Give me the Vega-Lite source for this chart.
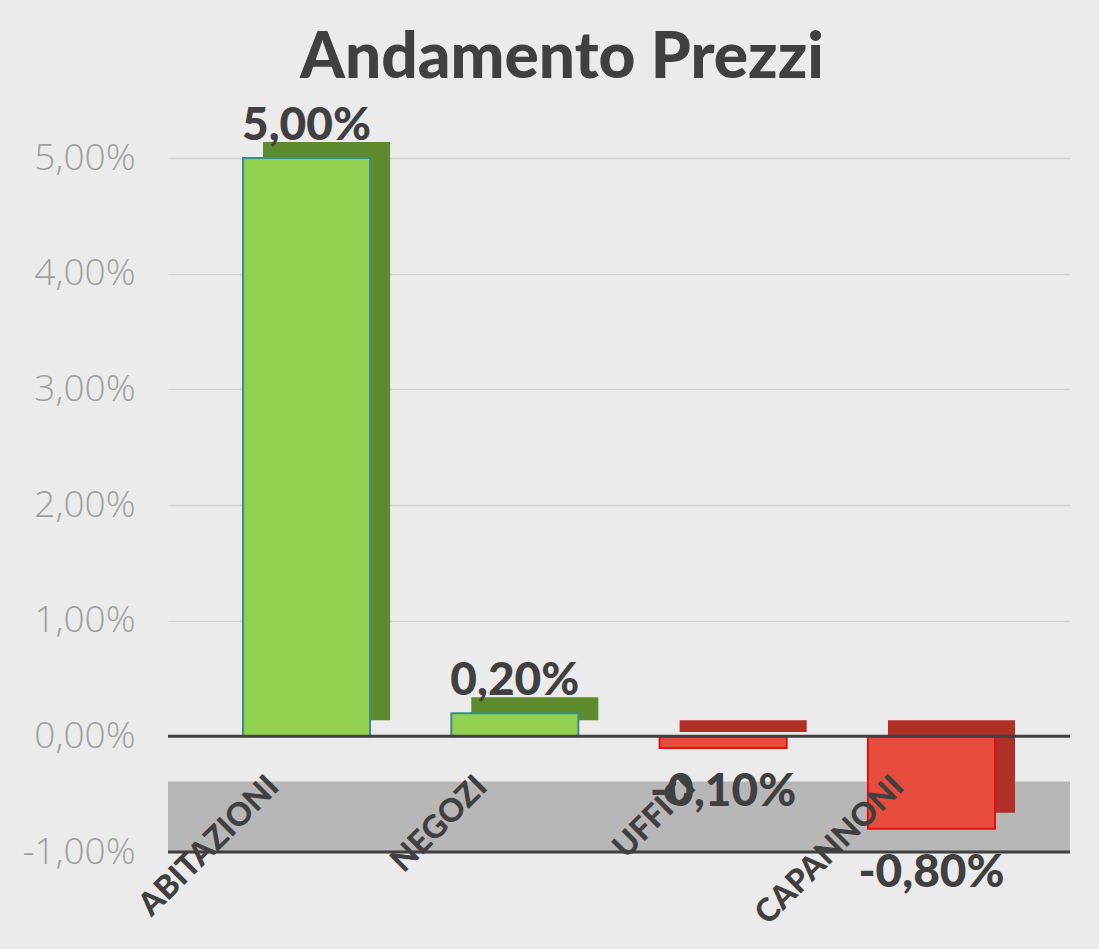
{
  "$schema": "https://vega.github.io/schema/vega-lite/v6.json",
  "width": 902,
  "height": 694,
  "autosize": {"type": "none"},
  "padding": {"left": 168, "top": 158, "right": 29, "bottom": 97},
  "background": "#ebebeb",
  "config": {
    "locale": {"number": {"decimal": ",", "thousands": ".", "grouping": [3], "currency": ["", " €"], "minus": "-"}},
    "view": {"stroke": null}
  },
  "title": {
    "text": "Andamento Prezzi",
    "fontSize": 64,
    "font": "Lato",
    "fontWeight": 900,
    "color": "#404040",
    "offset": 12,
    "dx": -57,
    "anchor": "middle"
  },
  "layer": [
    {
      "data": {"values": [{"da": -0.01, "a": -0.0039}]},
      "mark": {"type": "bar", "color": "#b7b7b7"},
      "encoding": {
        "x": {"value": 0},
        "x2": {"value": "width"},
        "y": {
          "field": "da",
          "type": "quantitative",
          "scale": {"domain": [-0.01, 0.05], "nice": false, "zero": false},
          "axis": {
            "title": null,
            "format": ".2%",
            "values": [-0.01, 0, 0.01, 0.02, 0.03, 0.04, 0.05],
            "domain": false,
            "ticks": false,
            "labelPadding": 33,
            "labelFont": "Open Sans",
            "labelFontWeight": 300,
            "labelFontSize": 37,
            "labelColor": "#a0a0a0",
            "grid": true,
            "gridColor": "#d2d2d2",
            "gridWidth": 1.5
          }
        },
        "y2": {"field": "a"}
      }
    },
    {
      "data": {"values": [{"categoria": "ABITAZIONI", "variazione": 0.05}, {"categoria": "NEGOZI", "variazione": 0.002}, {"categoria": "UFFICI", "variazione": -0.001}, {"categoria": "CAPANNONI", "variazione": -0.008}]},
      "layer": [
        {
          "mark": {"type": "bar", "xOffset": 20, "x2Offset": 20, "yOffset": -16, "y2Offset": -16},
          "encoding": {
            "x": {
              "field": "categoria", "type": "nominal", "sort": null,
              "scale": {"paddingInner": 0.39, "paddingOuter": 0.36},
              "axis": {
                "title": null,
                "domain": false,
                "ticks": false,
                "grid": false,
                "zindex": 2,
                "offset": -75,
                "labelAngle": -45,
                "labelAlign": "right",
                "labelBaseline": "middle",
                "labelPadding": 4,
                "labelOffset": -33,
                "labelLimit": 500,
                "labelOverlap": false,
                "labelFont": "Lato",
                "labelFontWeight": 900,
                "labelFontSize": 32,
                "labelColor": "#404040"
              }
            },
            "y": {"field": "variazione", "type": "quantitative", "title": null},
            "y2": {"datum": 0},
            "fill": {"condition": {"test": "datum.variazione >= 0", "value": "#5E8A2E"}, "value": "#B03028"}
          }
        },
        {
          "mark": {"type": "bar", "strokeWidth": 2},
          "encoding": {
            "x": {"field": "categoria", "type": "nominal", "sort": null},
            "y": {"field": "variazione", "type": "quantitative", "title": null},
            "y2": {"datum": 0},
            "fill": {"condition": {"test": "datum.variazione >= 0", "value": "#92D050"}, "value": "#E84C3D"},
            "stroke": {"condition": {"test": "datum.variazione >= 0", "value": "#3E8A8A"}, "value": "#E01010"}
          }
        },
        {
          "transform": [{"filter": "datum.variazione >= 0"}],
          "mark": {"type": "text", "baseline": "bottom", "dy": -8, "font": "Lato", "fontWeight": 900, "fontSize": 46, "color": "#404040"},
          "encoding": {
            "x": {"field": "categoria", "type": "nominal", "sort": null},
            "y": {"field": "variazione", "type": "quantitative", "title": null},
            "text": {"field": "variazione", "type": "quantitative", "format": ".2%"}
          }
        },
        {
          "transform": [{"filter": "datum.variazione < 0"}],
          "mark": {"type": "text", "baseline": "top", "dy": 22, "font": "Lato", "fontWeight": 900, "fontSize": 46, "color": "#404040"},
          "encoding": {
            "x": {"field": "categoria", "type": "nominal", "sort": null},
            "y": {"field": "variazione", "type": "quantitative", "title": null},
            "text": {"field": "variazione", "type": "quantitative", "format": ".2%"}
          }
        }
      ]
    },
    {
      "data": {"values": [{"livello": 0}, {"livello": -0.01}]},
      "mark": {"type": "rule", "color": "#404040", "strokeWidth": 3},
      "encoding": {"y": {"field": "livello", "type": "quantitative", "title": null}}
    }
  ]
}
